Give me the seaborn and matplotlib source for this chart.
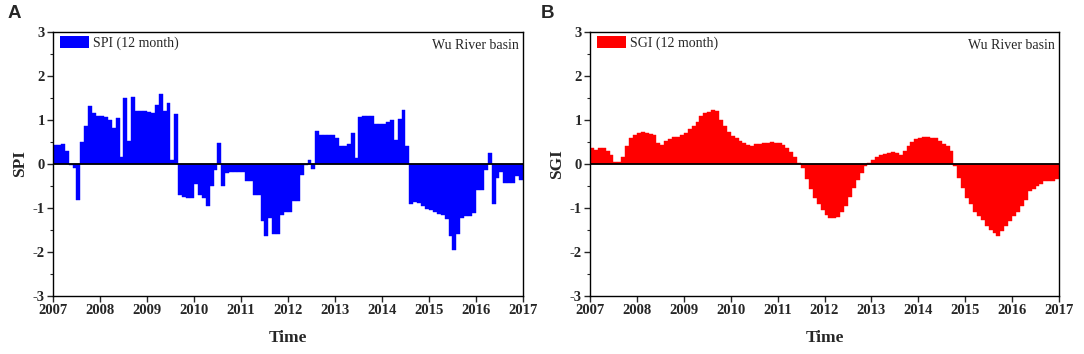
import numpy as np
import pandas as pd
import matplotlib
matplotlib.use("Agg")
import matplotlib.pyplot as plt
import seaborn as sns
from matplotlib.patches import Patch
from matplotlib.ticker import MultipleLocator

# ---------------- data (monthly values, Jan 2007 - Dec 2016) ----------------
years = list(range(2007, 2018))
y_ticks = [-3, -2, -1, 0, 1, 2, 3]

spi = [
    0.44, 0.44, 0.46, 0.29, -0.02, -0.09, -0.81, 0.50, 0.87, 1.31, 1.16, 1.10,   # 2007
    1.08, 1.07, 1.00, 0.82, 1.04, 0.16, 1.50, 0.52, 1.52, 1.21, 1.21, 1.20,      # 2008
    1.18, 1.17, 1.34, 1.60, 1.20, 1.39, 0.10, 1.13, -0.70, -0.75, -0.77, -0.77,  # 2009
    -0.45, -0.70, -0.78, -0.96, -0.50, -0.13, 0.47, -0.50, -0.20, -0.19, -0.19, -0.19,  # 2010
    -0.19, -0.39, -0.39, -0.70, -0.70, -1.30, -1.63, -1.23, -1.60, -1.60, -1.15, -1.08,  # 2011
    -1.08, -0.85, -0.85, -0.24, -0.03, 0.10, -0.12, 0.75, 0.65, 0.65, 0.65, 0.67,  # 2012
    0.60, 0.42, 0.42, 0.45, 0.70, 0.14, 1.07, 1.10, 1.10, 1.10, 0.92, 0.92,      # 2013
    0.92, 0.95, 1.00, 0.55, 1.02, 1.23, 0.42, -0.91, -0.87, -0.89, -0.96, -1.02,  # 2014
    -1.05, -1.10, -1.13, -1.17, -1.25, -1.63, -1.95, -1.60, -1.23, -1.19, -1.19, -1.11,  # 2015
    -0.60, -0.58, -0.13, 0.24, -0.90, -0.32, -0.19, -0.43, -0.43, -0.43, -0.28, -0.36,  # 2016
]

sgi = [
    0.36, 0.32, 0.36, 0.36, 0.30, 0.20, 0.05, 0.05, 0.17, 0.41, 0.58, 0.67,      # 2007
    0.71, 0.73, 0.71, 0.69, 0.66, 0.47, 0.43, 0.53, 0.56, 0.61, 0.62, 0.65,      # 2008
    0.70, 0.79, 0.86, 0.96, 1.10, 1.15, 1.18, 1.23, 1.21, 1.00, 0.86, 0.73,      # 2009
    0.64, 0.58, 0.53, 0.48, 0.43, 0.41, 0.45, 0.45, 0.47, 0.48, 0.49, 0.48,      # 2010
    0.47, 0.43, 0.36, 0.27, 0.15, 0.03, -0.10, -0.33, -0.57, -0.77, -0.92, -1.05,  # 2011
    -1.15, -1.22, -1.23, -1.20, -1.10, -0.95, -0.75, -0.55, -0.36, -0.20, -0.05, 0.02,  # 2012
    0.10, 0.17, 0.20, 0.23, 0.26, 0.28, 0.26, 0.20, 0.30, 0.42, 0.50, 0.56,      # 2013
    0.60, 0.61, 0.61, 0.60, 0.58, 0.53, 0.45, 0.41, 0.30, -0.05, -0.32, -0.55,   # 2014
    -0.77, -0.92, -1.08, -1.19, -1.28, -1.40, -1.49, -1.57, -1.63, -1.53, -1.42, -1.30,  # 2015
    -1.19, -1.08, -0.96, -0.81, -0.62, -0.57, -0.51, -0.45, -0.39, -0.38, -0.38, -0.35,  # 2016
]

month_index = np.arange(len(spi))
time = 2007 + (month_index + 0.5) / 12.0

# ---------------- styling ----------------
sns.set_style("ticks")
plt.rcParams["font.family"] = ["Liberation Serif", "DejaVu Serif"]
plt.rcParams["axes.linewidth"] = 1.0

fig = plt.figure(figsize=(10.84, 3.54), dpi=100)
W, H = 1084, 354
axA = fig.add_axes([53 / W, 58 / H, 470 / W, 264 / H])
axB = fig.add_axes([590 / W, 58 / H, 469 / W, 264 / H])

panels = [
    (axA, spi, "#0000FF", "SPI", "SPI (12 month)", "A", 8),
    (axB, sgi, "#FF0000", "SGI", "SGI (12 month)", "B", 541),
]

for ax, vals, color, name, leg_label, letter, lx in panels:
    df = pd.DataFrame({"Time": time, name: vals})
    sns.barplot(data=df, x="Time", y=name, native_scale=True, width=1.0,
                color=color, saturation=1, edgecolor=color, linewidth=0.3,
                errorbar=None, orient="x", ax=ax)
    ax.axhline(0, color="black", lw=1.3, zorder=3)
    ax.set_xlim(2007, 2017)
    ax.set_ylim(-3, 3)
    ax.set_xticks(years)
    ax.set_xticklabels([str(y) for y in years], fontsize=10.5, fontweight="bold")
    ax.set_yticks(y_ticks)
    ax.set_yticklabels([str(v) for v in y_ticks], fontsize=10.5, fontweight="bold")
    ax.yaxis.set_minor_locator(MultipleLocator(0.5))
    ax.tick_params(axis="both", which="major", direction="out", length=4, width=1,
                   top=False, right=False, pad=2)
    ax.tick_params(axis="y", which="minor", direction="out", length=2, width=0.8,
                   right=False)
    for sp in ax.spines.values():
        sp.set_visible(True)
        sp.set_color("black")
    ax.set_xlabel("Time", fontsize=12.5, fontweight="bold", labelpad=9)
    ax.set_ylabel(name, fontsize=12.5, fontweight="bold", labelpad=3)

    ax.legend(handles=[Patch(facecolor=color, edgecolor="none", label=leg_label)],
              loc="upper left", bbox_to_anchor=(0.0, 1.01), frameon=False,
              fontsize=10, handlelength=2.1, handleheight=0.95,
              handletextpad=0.3, borderpad=0.3, borderaxespad=0.2)
    ax.text(0.992, 0.972, "Wu River basin", transform=ax.transAxes,
            ha="right", va="top", fontsize=10)

    fig.text(lx / W, 1 - 13 / H, letter, fontsize=13.5, fontweight="bold",
             family="Liberation Sans", ha="left", va="center")

fig.savefig("out.png", dpi=100)
